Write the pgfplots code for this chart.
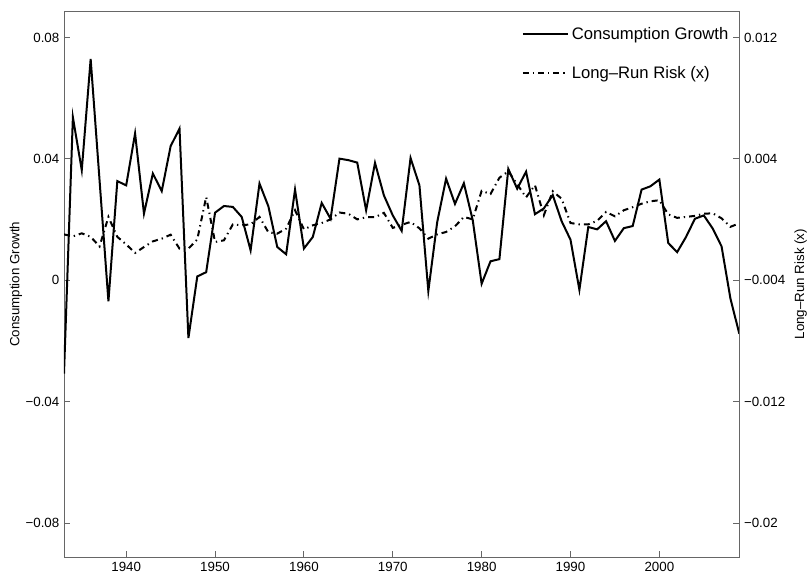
\documentclass[border=0pt]{standalone}
\usepackage{pgfplots}
\pgfplotsset{compat=1.18}
\usepackage{fontspec}
\setmainfont{Liberation Sans}

\pgfplotsset{
  mataxis/.style={
    width=506.5pt, height=409.7pt, scale only axis,
    at={(0,0)}, anchor=south west,
    xmin=1933, xmax=2009,
    tick align=inside,
    major tick length=4.5pt,
    scaled ticks=false,
    axis line style={black!60, line width=0.7pt},
    tick style={black!60, line width=0.7pt},
    ticklabel style={font=\fontsize{10}{12}\selectfont},
    label style={font=\fontsize{11}{13}\selectfont},
    /pgf/number format/assume math mode=true,
    /pgf/number format/1000 sep={},
  }
}

\begin{document}
\begin{tikzpicture}

\begin{axis}[mataxis,
  ymin=-0.0912, ymax=0.0887,
  xtick={1940,1950,1960,1970,1980,1990,2000},
  xtick pos=left,
  ytick={-0.08,-0.04,0,0.04,0.08},
  yticklabels={−0.08,−0.04,0,0.04,0.08},
  ytick pos=left,
  ylabel={Consumption Growth},
  every axis y label/.style={at={(axis description cs:0,0.5)}, xshift=-36pt, rotate=90, anchor=center},
]
% consumption growth
\addplot[black, line width=1.5pt] table {
1933 -0.0307
1934 0.0537
1935 0.0363
1936 0.0729
1937 0.0330
1938 -0.0069
1939 0.0327
1940 0.0313
1941 0.0484
1942 0.0220
1943 0.0352
1944 0.0294
1945 0.0442
1946 0.0500
1947 -0.0190
1948 0.0013
1949 0.0027
1950 0.0223
1951 0.0245
1952 0.0242
1953 0.0209
1954 0.0099
1955 0.0319
1956 0.0244
1957 0.0110
1958 0.0086
1959 0.0299
1960 0.0105
1961 0.0143
1962 0.0255
1963 0.0203
1964 0.0401
1965 0.0396
1966 0.0388
1967 0.0231
1968 0.0387
1969 0.0280
1970 0.0214
1971 0.0163
1972 0.0403
1973 0.0313
1974 -0.0035
1975 0.0192
1976 0.0335
1977 0.0252
1978 0.0320
1979 0.0198
1980 -0.0011
1981 0.0063
1982 0.0070
1983 0.0367
1984 0.0302
1985 0.0358
1986 0.0218
1987 0.0237
1988 0.0281
1989 0.0195
1990 0.0134
1991 -0.0031
1992 0.0176
1993 0.0168
1994 0.0195
1995 0.0130
1996 0.0172
1997 0.0179
1998 0.0299
1999 0.0310
2000 0.0332
2001 0.0123
2002 0.0093
2003 0.0143
2004 0.0203
2005 0.0214
2006 0.0171
2007 0.0112
2008 -0.0060
2009 -0.0176
};
\end{axis}

\begin{axis}[mataxis,
  ymin=-0.02224, ymax=0.01374,
  hide x axis,
  axis y line*=right,
  ytick={-0.02,-0.012,-0.004,0.004,0.012},
  yticklabels={−0.02,−0.012,−0.004,0.004,0.012},
  ylabel={Long–Run Risk (x)},
  every axis y label/.style={at={(axis description cs:1,0.5)}, xshift=46pt, rotate=90, anchor=center},
  legend style={at={(axis description cs:0.988,0.976)}, anchor=north east,
    draw=none, fill=none, inner sep=0pt, row sep=14.75pt,
    font=\fontsize{12.5}{14}\selectfont, legend cell align=left},
  legend image code/.code={\draw[#1] (0pt,0pt) -- (34pt,0pt);},
]
\addlegendimage{black, line width=1.5pt}
\addlegendentry{Consumption Growth}
% long-run risk
\addplot[black, line width=1.5pt, dash pattern=on 4.5pt off 3pt on 1pt off 3pt] table {
1933 -0.00097
1934 -0.00110
1935 -0.00090
1936 -0.00113
1937 -0.00176
1938 0.00018
1939 -0.00113
1940 -0.00163
1941 -0.00219
1942 -0.00180
1943 -0.00143
1944 -0.00125
1945 -0.00099
1946 -0.00191
1947 -0.00191
1948 -0.00130
1949 0.00149
1950 -0.00147
1951 -0.00136
1952 -0.00031
1953 -0.00037
1954 -0.00031
1955 0.00018
1956 -0.00083
1957 -0.00092
1958 -0.00059
1959 0.00062
1960 -0.00064
1961 -0.00037
1962 -0.00022
1963 0.00002
1964 0.00047
1965 0.00039
1966 0.00002
1967 0.00016
1968 0.00016
1969 0.00045
1970 -0.00054
1971 -0.00034
1972 -0.00015
1973 -0.00057
1974 -0.00125
1975 -0.00097
1976 -0.00081
1977 -0.00044
1978 0.00018
1979 0.00002
1980 0.00190
1981 0.00169
1982 0.00276
1983 0.00319
1984 0.00233
1985 0.00147
1986 0.00227
1987 0.00029
1988 0.00187
1989 0.00138
1990 -0.00022
1991 -0.00031
1992 -0.00031
1993 -0.00008
1994 0.00051
1995 0.00022
1996 0.00062
1997 0.00082
1998 0.00105
1999 0.00121
2000 0.00128
2001 0.00035
2002 0.00012
2003 0.00018
2004 0.00025
2005 0.00039
2006 0.00042
2007 0.00009
2008 -0.00047
2009 -0.00024
};
\addlegendentry{Long–Run Risk (x)}
\end{axis}

\pgfresetboundingbox
\path[use as bounding box] (-48pt,-20pt) rectangle (558.75pt,418pt);
\end{tikzpicture}
\end{document}
